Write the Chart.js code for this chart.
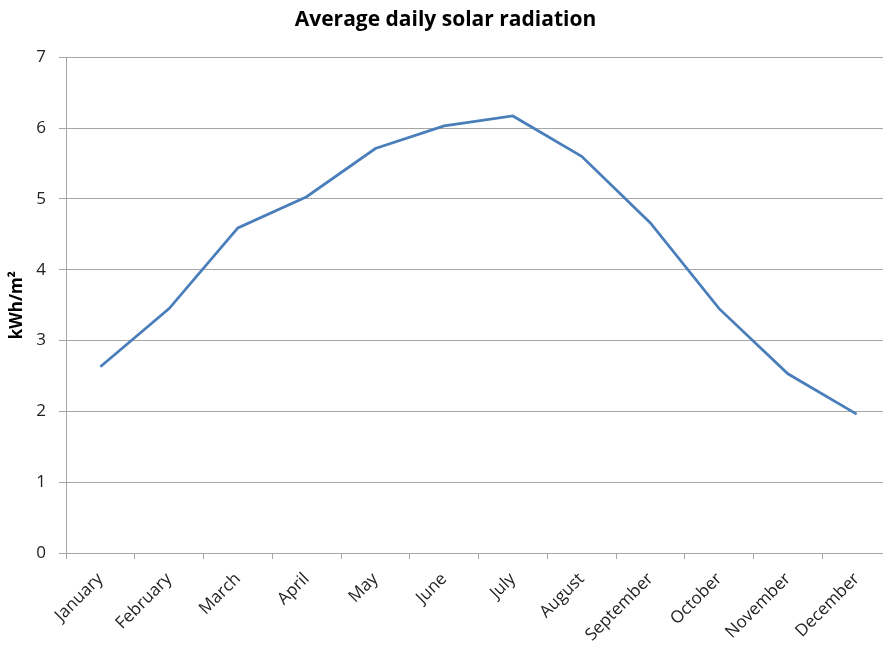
<!DOCTYPE html>
<html>
<head>
<meta charset="utf-8">
<title>Average daily solar radiation</title>
<script src="https://cdn.jsdelivr.net/npm/chart.js@4/dist/chart.umd.min.js"></script>
<style>
  html, body { margin: 0; padding: 0; background: #ffffff; overflow: hidden; }
  #wrap { width: 891px; height: 650px; position: relative; }
</style>
</head>
<body>
<div id="wrap"><canvas id="chart" width="891" height="650"></canvas></div>
<script>
// Monthly averages, kWh per square metre per day
const months = ['January', 'February', 'March', 'April', 'May', 'June',
                'July', 'August', 'September', 'October', 'November', 'December'];
const radiation = [2.63, 3.45, 4.59, 5.03, 5.71, 6.03, 6.17, 5.60, 4.66, 3.45, 2.53, 1.96];
const yTicks = [0, 1, 2, 3, 4, 5, 6, 7];

const gridGrey = '#a6a6a6';
const textColor = '#222222';
const fontFamily = '"Open Sans", Lato, "DejaVu Sans", sans-serif';

new Chart(document.getElementById('chart'), {
  type: 'line',
  data: {
    labels: months,
    datasets: [{
      label: 'kWh/m²',
      data: radiation,
      borderColor: '#4a7ebb',
      borderWidth: 2.75,
      pointRadius: 0,
      pointHoverRadius: 0,
      tension: 0,
      fill: false
    }]
  },
  options: {
    responsive: false,
    animation: false,
    events: [],
    layout: { padding: 0 },
    plugins: {
      legend: { display: false },
      tooltip: { enabled: false },
      title: {
        display: true,
        text: 'Average daily solar radiation',
        color: '#000000',
        font: { family: fontFamily, size: 21, weight: 'bold', lineHeight: 1.2 },
        padding: { top: 7, bottom: 25 }
      }
    },
    scales: {
      x: {
        offset: true,
        grid: {
          offset: true,
          drawOnChartArea: false,
          drawTicks: true,
          tickLength: 6,
          color: gridGrey
        },
        border: { display: true, color: gridGrey, width: 1 },
        ticks: {
          color: textColor,
          font: { family: fontFamily, size: 17 },
          minRotation: 45,
          maxRotation: 45,
          autoSkip: false,
          padding: 10
        },
        afterFit: (scale) => { scale.height = 97; }
      },
      y: {
        min: 0,
        max: 7,
        afterBuildTicks: (scale) => { scale.ticks = yTicks.map(v => ({ value: v })); },
        grid: {
          color: gridGrey,
          tickLength: 7,
          drawTicks: true
        },
        border: { display: true, color: gridGrey, width: 1 },
        ticks: {
          color: textColor,
          font: { family: fontFamily, size: 17 },
          padding: 13
        },
        title: {
          display: true,
          text: 'kWh/m²',
          color: '#000000',
          font: { family: fontFamily, size: 17, weight: 'bold', lineHeight: 1.2 },
          padding: { top: 7, bottom: 0 }
        },
        afterFit: (scale) => { scale.width = 66; }
      }
    }
  }
});
</script>
</body>
</html>
